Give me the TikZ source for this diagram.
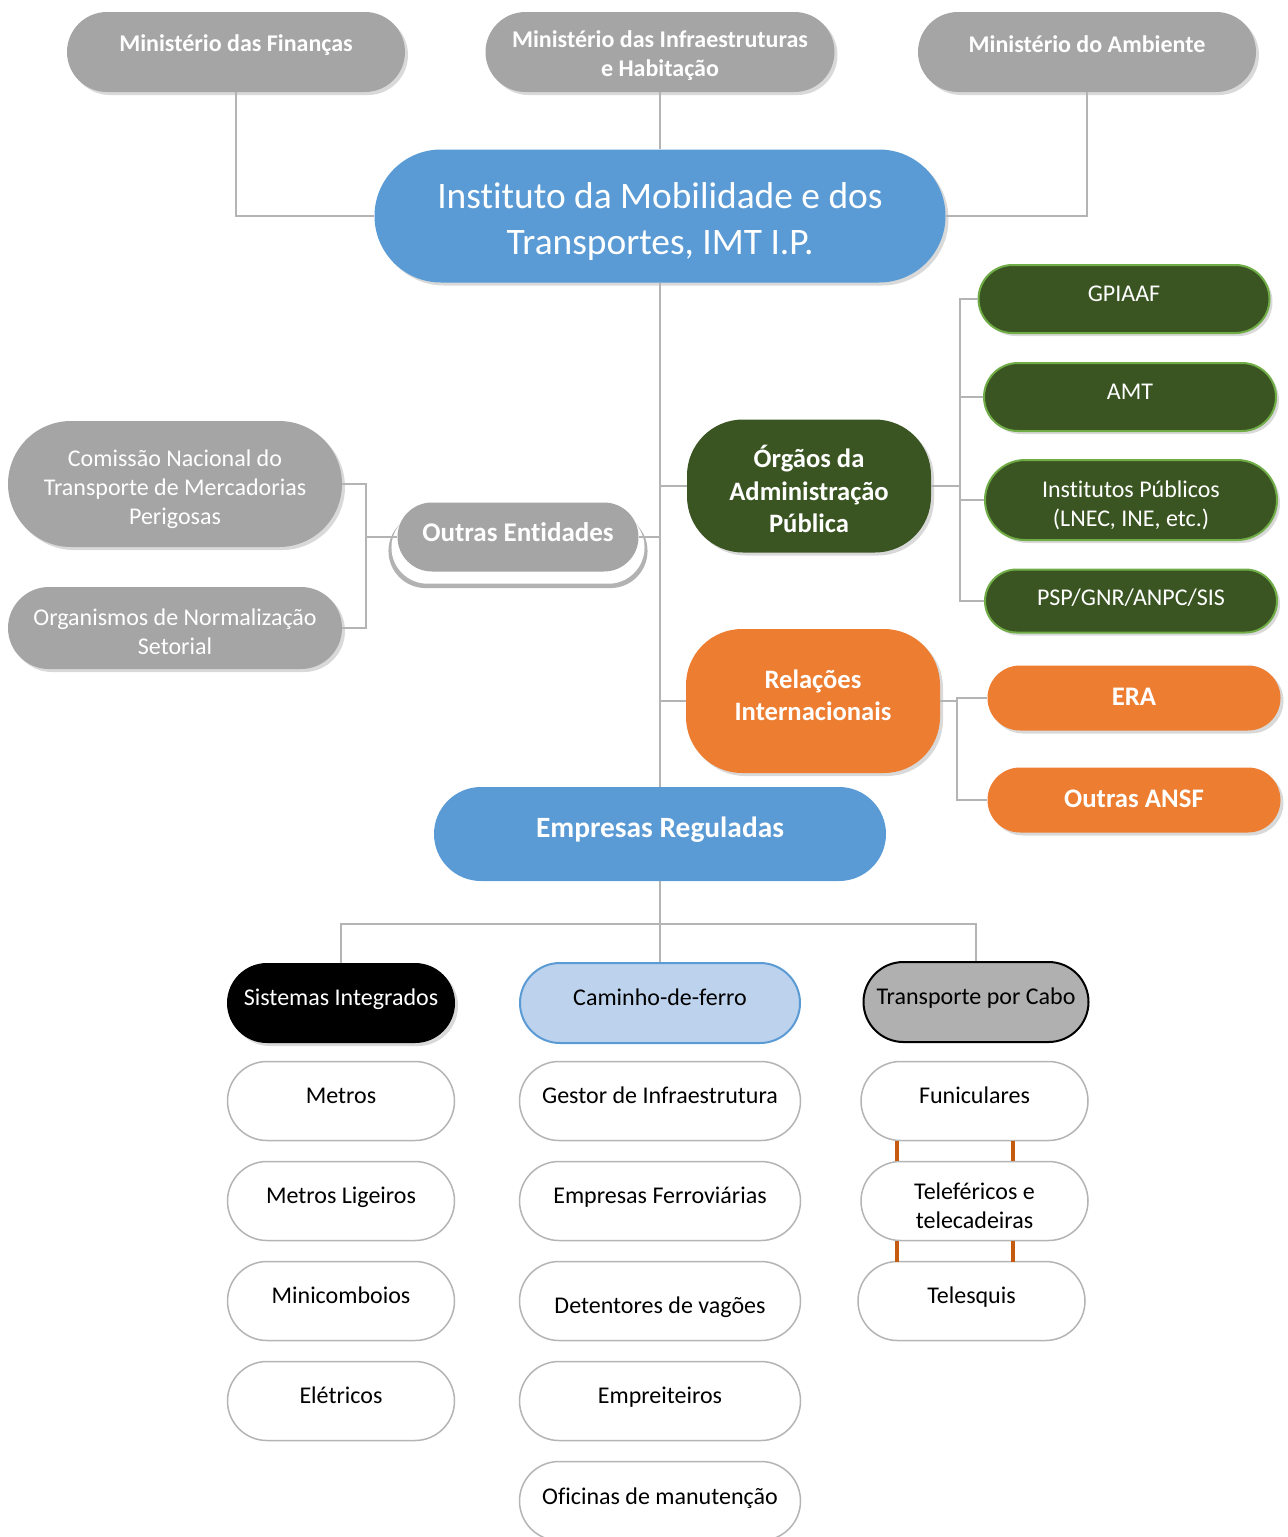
\documentclass[tikz,border=0pt]{standalone}
\usepackage{fontspec}
\setmainfont{Carlito}[Ligatures=NoCommon]
\usetikzlibrary{shapes.misc,shadows,positioning}

\definecolor{cinza}{HTML}{A5A5A5}
\definecolor{azul}{HTML}{5B9BD5}
\definecolor{azulclaro}{HTML}{BDD2EC}
\definecolor{verde}{HTML}{3A5522}
\definecolor{verdeclaro}{HTML}{70AD47}
\definecolor{laranja}{HTML}{ED7D31}
\definecolor{cinzacabo}{HTML}{B0B0B0}
\definecolor{linha}{HTML}{B4B4B4}
\definecolor{barra}{HTML}{C55A11}

\tikzset{
  caixa/.style={rounded rectangle, align=center, inner sep=2pt},
  sombra/.style={drop shadow={shadow xshift=1.5pt, shadow yshift=-1.5pt, opacity=.3}},
  sobe/.style={text height=8pt, text depth=#1},
  desce/.style={text height=#1},
  liga/.style={draw=linha, line width=.6pt},
  ministerio/.style={caixa, sombra, fill=cinza, text=white, minimum width=173pt,
    minimum height=40pt, font=\fontsize{12}{14.5}\selectfont\bfseries},
  orgao/.style={rectangle, rounded corners=28pt, align=center, sombra, text=white,
    minimum width=122pt, minimum height=66.5pt, font=\fontsize{13.3}{16.2}\selectfont\bfseries},
  outras/.style={caixa, fill=cinza, text=white, minimum width=124.5pt, minimum height=34.5pt,
    font=\fontsize{13.5}{16}\selectfont\bfseries,
    general shadow={fill=black!30, shadow scale=1.075, shadow yshift=-6.5pt},
    general shadow={fill=white, shadow scale=1.05, shadow yshift=-5pt}},
  entidade/.style={caixa, sombra, fill=cinza, text=white, minimum width=171pt,
    minimum height=41pt, font=\fontsize{12}{14.5}\selectfont},
  publico/.style={caixa, sombra, fill=verde, draw=verdeclaro, line width=1pt, text=white,
    minimum width=150pt, minimum height=34pt, font=\fontsize{12}{14.5}\selectfont},
  internacional/.style={caixa, sombra, fill=laranja, text=white, minimum width=150.5pt,
    minimum height=32.5pt, font=\fontsize{13.4}{16}\selectfont\bfseries, sobe=1pt},
  regulada/.style={caixa, fill=azul, text=white, minimum width=230pt, minimum height=47pt,
    font=\fontsize{14.7}{17}\selectfont\bfseries, sobe=5pt},
  cabeca/.style={caixa, minimum width=118pt, minimum height=40pt,
    font=\fontsize{12}{14.5}\selectfont, sobe=6pt},
  tipo/.style={caixa, draw=linha, line width=.75pt, fill=white, minimum width=117.5pt,
    minimum height=39.5pt, font=\fontsize{12}{14.5}\selectfont},
  elo/.style={draw=barra, line width=2pt},
}

\begin{document}
\begin{tikzpicture}[x=0.5pt,y=-0.5pt]
  \useasboundingbox (0,0) rectangle (1287,1537);
  % Ministerios
  \node[ministerio, sobe=9pt] (fin) at (236,52) {Ministério das Finanças};
  \node[ministerio, minimum width=178.5pt, desce=26.5pt] (infra) at (660,52)
    {Ministério das Infraestruturas\\e Habitação};
  \node[ministerio, sobe=8pt] (amb) at (1087,52) {Ministério do Ambiente};
  % Instituto
  \node[caixa, sombra, fill=azul, text=white, minimum width=289.5pt, minimum height=66.5pt,
    font=\fontsize{18.7}{23}\selectfont, desce=41.5pt] (imt) at (660,216)
    {Instituto da Mobilidade e dos\\Transportes, IMT I.P.};
  \draw[liga] (fin.south) |- (imt.west);
  \draw[liga] (amb.south) |- (imt.east);
  \draw[liga] (infra.south) -- (imt.north);
  % Ramos centrais
  \node[orgao, fill=verde, desce=46.7pt] (orgaos) at (809,486)
    {Órgãos da\\Administração\\Pública};
  \node[orgao, fill=laranja, minimum width=127pt, minimum height=72pt, text depth=6pt] (rel)
    at (813,701) {Relações\\Internacionais};
  \node[outras, sobe=4pt] (oe) at (518,537) {Outras Entidades};
  \node[regulada] (reg) at (660,834) {Empresas Reguladas};
  \draw[liga] (imt.south) -- (reg.north);
  \foreach \n in {orgaos,rel}
    \draw[liga] (\n.west) -- (imt.south |- \n.west);
  \draw[liga] (oe.east) -- (imt.south |- oe.east);
  % Outras entidades
  \node[entidade, minimum height=63pt, desce=42.5pt] (cnt) at (175,484)
    {Comissão Nacional do\\Transporte de Mercadorias\\Perigosas};
  \node[entidade, desce=26.5pt] (ons) at (175,628) {Organismos de Normalização\\Setorial};
  \coordinate (oebus) at (366,537);
  \draw[liga] (oe.west) -- (oebus);
  \foreach \n in {cnt,ons}
    \draw[liga] (oebus) |- (\n.east);
  % Administracao publica
  \node[publico, minimum width=149.5pt, sobe=6pt] (gpiaaf) at (1124,299) {GPIAAF};
  \node[publico, sobe=6pt] (amt) at (1130,397) {AMT};
  \node[publico, minimum height=40pt, desce=27.7pt] (inst) at (1131,500)
    {Institutos Públicos\\(LNEC, INE, etc.)};
  \node[publico, minimum height=31.5pt, sobe=4pt] (psp) at (1131,601) {PSP/GNR/ANPC/SIS};
  \coordinate (orgbus) at (960,486);
  \draw[liga] (orgaos.east) -- (orgbus);
  \foreach \n in {gpiaaf,amt,inst,psp}
    \draw[liga] (orgbus) |- (\n.west);
  % Relacoes internacionais
  \node[internacional] (era) at (1134,698) {ERA};
  \node[internacional] (ansf) at (1134,800) {Outras ANSF};
  \coordinate (relbus) at (957,701);
  \draw[liga] (rel.east) -- (relbus);
  \foreach \n in {era,ansf}
    \draw[liga] (relbus) |- (\n.west);
  % Empresas reguladas
  \node[cabeca, sombra, fill=black, text=white] (sist) at (341,1003) {Sistemas Integrados};
  \node[cabeca, fill=azulclaro, draw=azul, line width=1pt, minimum width=144pt] (cdf)
    at (660,1003) {Caminho-de-ferro};
  \node[cabeca, fill=cinzacabo, draw=black, line width=1pt, minimum width=116.5pt] (cabo)
    at (976,1002) {Transporte por Cabo};
  \coordinate (split) at (660,924);
  \draw[liga] (reg.south) -- (split);
  \foreach \n in {sist,cdf,cabo}
    \draw[liga] (split) -| (\n.north);
  \foreach \txt [count=\i] in {Metros, Metros Ligeiros, Minicomboios, Elétricos}
    \node[tipo, sobe=6pt] (si\i) at (341,{1001+100*\i}) {\txt};
  \foreach \txt/\h/\d [count=\i] in {Gestor de Infraestrutura/8pt/6pt,
      Empresas Ferroviárias/8pt/6pt, Detentores de vagões/12pt/0pt,
      Empreiteiros/8pt/6pt, Oficinas de manutenção/8pt/5pt}
    \node[tipo, minimum width=144.5pt, text height=\h, text depth=\d] (cf\i)
      at (660,{1001+100*\i}) {\txt};
  \node[tipo, sobe=6pt] (funi) at (974.5,1101) {Funiculares};
  \node[tipo, desce=27.5pt] (telef) at (974.5,1201) {Teleféricos e\\telecadeiras};
  \node[tipo, sobe=6pt] (tele) at (971.5,1301) {Telesquis};
  \foreach \dx in {-38.75pt,19.25pt} {
    \draw[elo] ([xshift=\dx]funi.south) -- ([xshift=\dx]telef.north);
    \draw[elo] ([xshift=\dx]telef.south) -- ++(0,21);
  }
\end{tikzpicture}
\end{document}
